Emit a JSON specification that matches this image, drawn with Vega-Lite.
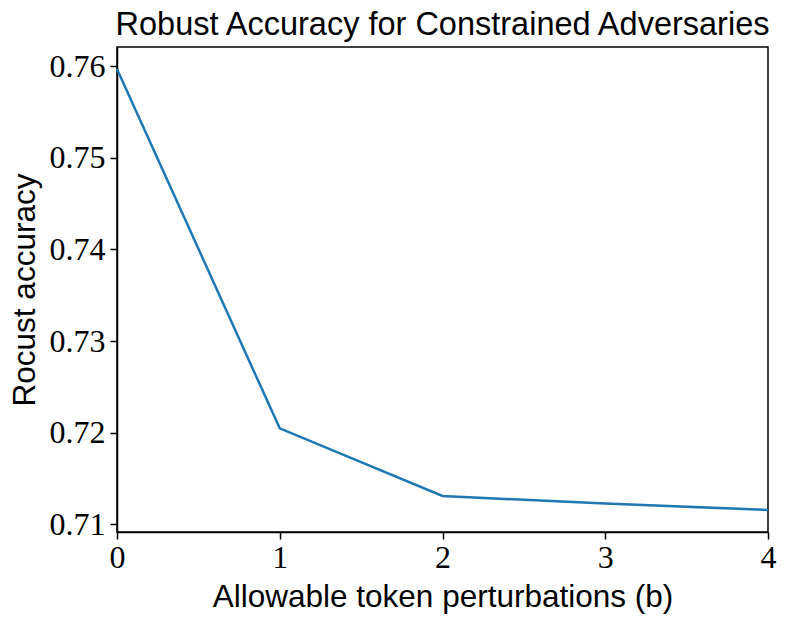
{
  "$schema": "https://vega.github.io/schema/vega-lite/v6.json",
  "autosize": {"type": "none"},
  "width": 651,
  "height": 485,
  "padding": {"left": 117, "top": 47, "right": 21, "bottom": 95},
  "background": "white",
  "title": {
    "text": "Robust Accuracy for Constrained Adversaries",
    "font": "Liberation Sans",
    "fontSize": 32.5,
    "fontWeight": "normal",
    "color": "black",
    "anchor": "middle",
    "frame": "group",
    "baseline": "bottom",
    "offset": 2,
    "dy": 29
  },
  "config": {
    "view": {"stroke": "black", "strokeWidth": 1.5},
    "axis": {
      "domainColor": "black",
      "domainWidth": 1.5,
      "tickColor": "black",
      "tickWidth": 1.5,
      "tickSize": 7,
      "grid": false,
      "labelFont": "Liberation Serif",
      "labelFontSize": 32,
      "labelColor": "black",
      "titleFont": "Liberation Sans",
      "titleFontSize": 31.5,
      "titleFontWeight": "normal",
      "titleColor": "black"
    }
  },
  "data": {
    "values": [
      {"b": 0, "acc": 0.7597},
      {"b": 1, "acc": 0.72047},
      {"b": 2, "acc": 0.71309},
      {"b": 3, "acc": 0.71226},
      {"b": 4, "acc": 0.71156}
    ]
  },
  "mark": {"type": "line", "color": "#1f77b4", "strokeWidth": 2.5},
  "encoding": {
    "x": {
      "field": "b",
      "type": "quantitative",
      "scale": {"domain": [0, 4], "nice": false, "zero": false},
      "axis": {"values": [0, 1, 2, 3, 4], "format": "d", "title": "Allowable token perturbations (b)", "labelPadding": 3, "titlePadding": 8, "labelFlush": false}
    },
    "y": {
      "field": "acc",
      "type": "quantitative",
      "scale": {"domain": [0.70916, 0.7621], "nice": false, "zero": false},
      "axis": {"values": [0.71, 0.72, 0.73, 0.74, 0.75, 0.76], "format": ".2f", "title": "Rocust accuracy", "labelPadding": 5, "titlePadding": 8, "labelFlush": false}
    }
  }
}
